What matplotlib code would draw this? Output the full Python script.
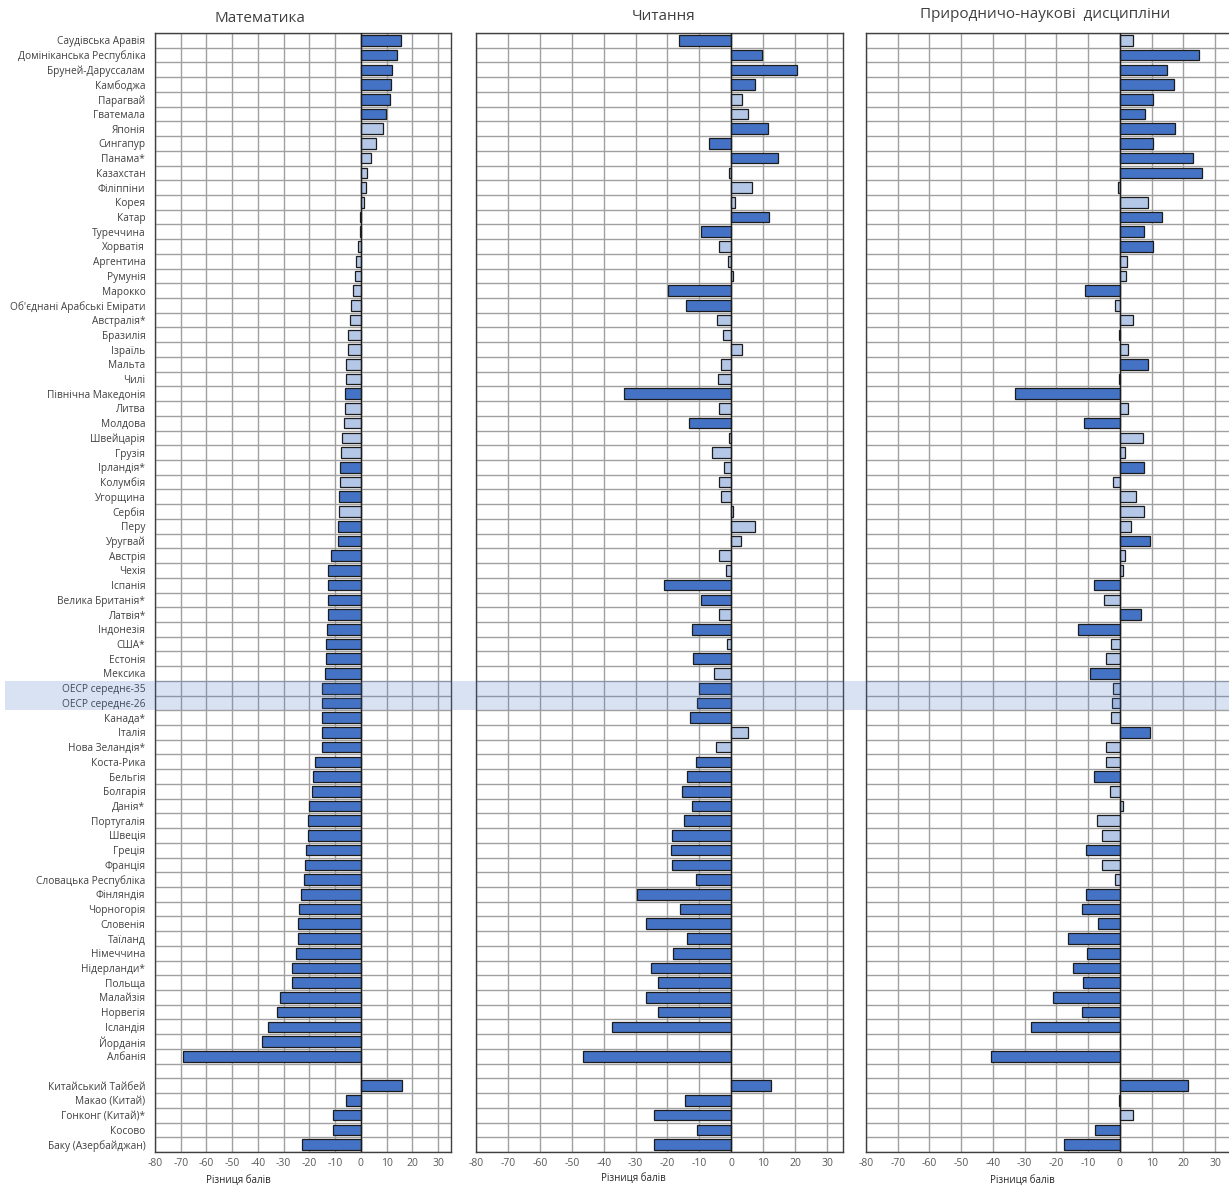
import numpy as np
import matplotlib
matplotlib.use("Agg")
import matplotlib.pyplot as plt
from matplotlib.patches import Rectangle

plt.rcParams["font.family"] = ["Open Sans", "DejaVu Sans"]

nan = np.nan

COUNTRIES = [
    "Саудівська Аравія", "Домініканська Республіка", "Бруней-Даруссалам", "Камбоджа",
    "Парагвай", "Гватемала", "Японія", "Сингапур", "Панама*", "Казахстан",
    "Філіппіни", "Корея", "Катар", "Туреччина", "Хорватія", "Аргентина", "Румунія",
    "Марокко", "Об'єднані Арабські Емірати", "Австралія*", "Бразилія", "Ізраїль",
    "Мальта", "Чилі", "Північна Македонія", "Литва", "Молдова", "Швейцарія", "Грузія",
    "Ірландія*", "Колумбія", "Угорщина", "Сербія", "Перу", "Уругвай", "Австрія",
    "Чехія", "Іспанія", "Велика Британія*", "Латвія*", "Індонезія", "США*", "Естонія",
    "Мексика", "ОЕСР середнє-35", "ОЕСР середнє-26", "Канада*", "Італія",
    "Нова Зеландія*", "Коста-Рика", "Бельгія", "Болгарія", "Данія*", "Португалія",
    "Швеція", "Греція", "Франція", "Словацька Республіка", "Фінляндія", "Чорногорія",
    "Словенія", "Таїланд", "Німеччина", "Нідерланди*", "Польща", "Малайзія",
    "Норвегія", "Ісландія", "Йорданія", "Албанія", "",
    "Китайський Тайбей", "Макао (Китай)", "Гонконг (Китай)*", "Косово",
    "Баку (Азербайджан)",
]

MATH = [
    15.6, 14.0, 12.0, 11.6, 11.3, 9.9, 8.7, 5.7, 3.9, 2.3,
    2.1, 1.3, -0.2, -0.2, -1.3, -1.8, -2.2, -3.0, -3.9, -4.3,
    -4.9, -5.2, -5.7, -5.7, -6.1, -6.1, -6.5, -7.3, -7.7, -8.2,
    -8.2, -8.4, -8.4, -8.8, -9.0, -11.7, -12.6, -12.6, -12.9, -12.9,
    -13.1, -13.5, -13.5, -13.9, -15.1, -15.1, -15.1, -15.3, -15.3, -17.8,
    -18.6, -19.0, -20.1, -20.6, -20.6, -21.3, -21.7, -22.2, -23.1, -24.0,
    -24.3, -24.5, -25.2, -26.8, -26.8, -31.4, -32.6, -36.1, -38.6, -69.2,
    nan, 16.1, -5.6, -10.8, -10.8, -22.7,
]
MATH_SIG = [
    1, 1, 1, 1, 1, 1, 0, 0, 0, 0,
    0, 0, 0, 0, 0, 0, 0, 0, 0, 0,
    0, 0, 0, 0, 1, 0, 0, 0, 0, 1,
    0, 1, 0, 1, 1, 1, 1, 1, 1, 1,
    1, 1, 1, 1, 1, 1, 1, 1, 1, 1,
    1, 1, 1, 1, 1, 1, 1, 1, 1, 1,
    1, 1, 1, 1, 1, 1, 1, 1, 1, 1,
    0, 1, 1, 1, 1, 1,
]

READ = [
    -16.4, 9.5, 20.7, 7.5, 3.3, 5.3, 11.5, -6.9, 14.7, -0.7,
    6.6, 1.1, 11.9, -9.6, -3.7, -1.0, 0.6, -19.8, -14.3, -4.5,
    -2.7, 3.2, -3.1, -4.3, -33.7, -4.0, -13.1, -0.7, -5.9, -2.2,
    -3.7, -3.1, 0.6, 7.5, 3.1, -4.0, -1.6, -21.1, -9.6, -4.0,
    -12.4, -1.4, -12.0, -5.3, -10.2, -10.7, -12.9, 5.3, -4.9, -11.1,
    -14.0, -15.5, -12.4, -14.9, -18.6, -18.9, -18.6, -11.1, -29.5, -16.0,
    -26.6, -14.0, -18.4, -25.3, -22.9, -26.6, -22.9, -37.5, nan, -46.4,
    nan, 12.4, -14.5, -24.3, -10.7, -24.1,
]
READ_SIG = [
    1, 1, 1, 1, 0, 0, 1, 1, 1, 0,
    0, 0, 1, 1, 0, 0, 0, 1, 1, 0,
    0, 0, 0, 0, 1, 0, 1, 0, 0, 0,
    0, 0, 0, 0, 0, 0, 0, 1, 1, 0,
    1, 0, 1, 0, 1, 1, 1, 0, 0, 1,
    1, 1, 1, 1, 1, 1, 1, 1, 1, 1,
    1, 1, 1, 1, 1, 1, 1, 1, 1, 1,
    0, 1, 1, 1, 1, 1,
]

SCI = [
    4.2, 24.8, 14.9, 16.9, 10.3, 8.0, 17.5, 10.5, 23.0, 25.9,
    -0.6, 9.0, 13.2, 7.7, 10.3, 2.2, 1.8, -10.9, -1.7, 4.2,
    -0.4, 2.7, 9.0, -0.2, -33.0, 2.4, -11.4, 7.3, 1.5, 7.7,
    -2.1, 5.1, 7.7, 3.6, 9.6, 1.5, 1.0, -8.1, -5.0, 6.6,
    -13.2, -2.8, -4.3, -9.3, -2.3, -2.6, -2.8, 9.4, -4.3, -4.5,
    -8.1, -3.1, 1.1, -7.1, -5.7, -10.7, -5.7, -1.7, -10.7, -12.0,
    -7.0, -16.5, -10.5, -14.8, -11.7, -21.0, -12.0, -28.0, nan, -40.5,
    nan, 21.6, -0.4, 4.0, -7.8, -17.5,
]
SCI_SIG = [
    0, 1, 1, 1, 1, 1, 1, 1, 1, 1,
    0, 0, 1, 1, 1, 0, 0, 1, 0, 0,
    1, 0, 1, 1, 1, 0, 1, 0, 0, 1,
    0, 0, 0, 0, 1, 0, 0, 1, 0, 1,
    1, 0, 0, 1, 0, 0, 0, 1, 0, 0,
    1, 0, 0, 0, 0, 1, 0, 0, 1, 1,
    1, 1, 1, 1, 1, 1, 1, 1, 1, 1,
    0, 1, 1, 0, 1, 1,
]

PANELS = [
    ("Математика", MATH, MATH_SIG),
    ("Читання", READ, READ_SIG),
    ("Природничо-наукові  дисципліни", SCI, SCI_SIG),
]
XTICKS = list(range(-80, 31, 10))
XLABEL = "Різниця балів"
OECD_ROWS = ["ОЕСР середнє-35", "ОЕСР середнє-26"]

DARK = "#4472c4"
LIGHT = "#b4c7e7"
GRID = "#a0a0a0"

W, H = 1229, 1186
fig = plt.figure(figsize=(W / 100, H / 100), dpi=100)

# pixel boxes of the three panels (left, width) and title/xlabel anchors
boxes = [(155, 296), (476, 367), (866, 365)]
title_pos = [(260, 18), (664, 16), (1045, 14)]
xlab_pos = [(238, 1180), (633, 1178), (1022, 1180)]
top, bottom = 33, 1152

n = len(COUNTRIES)
ypos = np.arange(n)

for k, (title, vals, sig) in enumerate(PANELS):
    left, width = boxes[k]
    ax = fig.add_axes([left / W, 1 - bottom / H, width / W, (bottom - top) / H])
    vals = np.array(vals, dtype=float)
    colors = [DARK if s else LIGHT for s in sig]
    ax.barh(ypos, np.nan_to_num(vals), height=0.72, color=colors,
            edgecolor="#1c1c1c", linewidth=0.9, zorder=3)

    ax.set_xlim(-80, 35)
    ax.set_ylim(n - 0.5, -0.5)
    ax.set_xticks(XTICKS)
    ax.set_xticklabels([str(t) for t in XTICKS], fontsize=7.5, color="#595959")
    ax.set_yticks(np.arange(n + 1) - 0.5, minor=True)
    if k == 0:
        ax.set_yticks(ypos)
        ax.set_yticklabels(COUNTRIES, fontsize=7.3, color="#404040")
    else:
        ax.set_yticks([])
    ax.tick_params(axis="both", which="both", length=0)
    ax.tick_params(axis="y", pad=7)
    ax.tick_params(axis="x", pad=4)
    ax.grid(axis="x", which="major", color=GRID, linewidth=1, zorder=0)
    ax.grid(axis="y", which="minor", color=GRID, linewidth=1, zorder=0)
    ax.axvline(0, color="#1c1c1c", linewidth=1, zorder=4)
    for sp in ax.spines.values():
        sp.set_color("#404040")
        sp.set_linewidth(1)

    fig.text(title_pos[k][0] / W, 1 - title_pos[k][1] / H, title,
             ha="center", va="center", fontsize=11, color="#404040")
    fig.text(xlab_pos[k][0] / W, 1 - xlab_pos[k][1] / H, XLABEL,
             ha="center", va="center", fontsize=7, color="#262626")

# highlight band over the OECD average rows
i0 = COUNTRIES.index(OECD_ROWS[0])
row_h = (bottom - top) / n
y_top = top + i0 * row_h
band = Rectangle((5 / W, 1 - (y_top + 2 * row_h) / H), (W - 5) / W, 2 * row_h / H,
                 transform=fig.transFigure, facecolor=DARK, alpha=0.2,
                 edgecolor="none", zorder=10)
fig.patches.append(band)

fig.savefig("out.png", dpi=100)
